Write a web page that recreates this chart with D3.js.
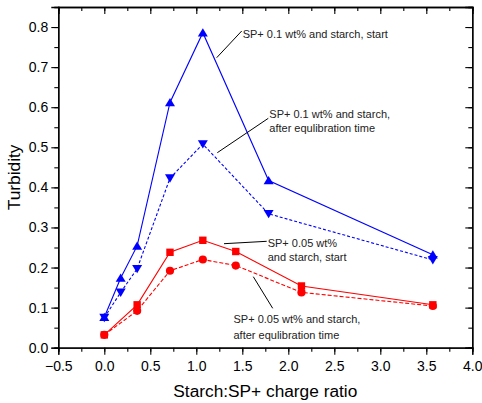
<!DOCTYPE html>
<html>
<head>
<meta charset="utf-8">
<script src="https://cdn.jsdelivr.net/npm/d3@7"></script>
<style>
  html, body { margin: 0; padding: 0; background: #fff; }
  svg { display: block; font-family: "Liberation Sans", Arial, sans-serif; }
</style>
</head>
<body>
<svg id="chart" width="482" height="403"></svg>
<script>
// Charge ratios for each series
const ratiosBlue = [0, 0.178, 0.357, 0.714, 1.071, 1.786, 3.571];
const ratiosRed  = [0, 0.357, 0.714, 1.071, 1.429, 2.143, 3.571];

// Turbidity values
const sp01Start = [0.076, 0.174, 0.254, 0.612, 0.786, 0.417, 0.232];
const sp01After = [0.075, 0.138, 0.197, 0.423, 0.508, 0.334, 0.219];
const sp005Start = [0.032, 0.107, 0.238, 0.268, 0.240, 0.154, 0.107];
const sp005After = [0.032, 0.092, 0.192, 0.220, 0.205, 0.138, 0.104];

const xTicks = [-0.5, 0, 0.5, 1.0, 1.5, 2.0, 2.5, 3.0, 3.5, 4.0];
const yTicks = [0, 0.1, 0.2, 0.3, 0.4, 0.5, 0.6, 0.7, 0.8];

const series = [
  { name: "SP+ 0.1 wt% and starch, start", x: ratiosBlue, y: sp01Start, color: "#0000ff", dash: null, marker: "up" },
  { name: "SP+ 0.1 wt% and starch, after equlibration time", x: ratiosBlue, y: sp01After, color: "#0000ff", dash: "3,2", marker: "down" },
  { name: "SP+ 0.05 wt% and starch, start", x: ratiosRed, y: sp005Start, color: "#ff0000", dash: null, marker: "square" },
  { name: "SP+ 0.05 wt% and starch, after equlibration time", x: ratiosRed, y: sp005After, color: "#ff0000", dash: "4,2", marker: "circle" }
];

const L = 58.3, R = 472.3, T = 7, B = 347.7;
const x = d3.scaleLinear().domain([-0.5, 4.0]).range([L, R]);
const y = d3.scaleLinear().domain([0, 0.85]).range([B, T]);

const svg = d3.select("#chart");

// Series lines
const line = d3.line().x(d => x(d[0])).y(d => y(d[1]));
series.forEach(s => {
  const pts = s.x.map((v, i) => [v, s.y[i]]);
  svg.append("path")
    .attr("d", line(pts))
    .attr("fill", "none")
    .attr("stroke", s.color)
    .attr("stroke-width", 1.1)
    .attr("stroke-dasharray", s.dash);
});

// Markers
const markerPath = {
  up: "M0,-4.5L5,3.8L-5,3.8Z",
  down: "M0,4.5L5,-3.8L-5,-3.8Z",
  square: "M-3.7,-3.7H3.7V3.7H-3.7Z"
};
series.forEach(s => {
  const g = svg.append("g");
  s.x.forEach((v, i) => {
    if (s.marker === "circle") {
      g.append("circle").attr("cx", x(v)).attr("cy", y(s.y[i])).attr("r", 4.1).attr("fill", s.color);
    } else {
      g.append("path").attr("d", markerPath[s.marker])
        .attr("transform", `translate(${x(v)},${y(s.y[i])})`)
        .attr("fill", s.color);
    }
  });
});

// Axes: outward ticks on bottom/left, mirrored inward ticks on top/right
const axisStroke = 1.3;
const xMinor = d3.range(-0.5, 4.0001, 0.25);
const yMinor = d3.range(0, 0.8501, 0.05);

svg.append("g").attr("transform", `translate(0,${B})`)
  .call(d3.axisBottom(x).tickValues(xTicks).tickFormat(d3.format(".1f")).tickSize(7).tickPadding(6));
svg.append("g").attr("transform", `translate(${L},0)`)
  .call(d3.axisLeft(y).tickValues(yTicks).tickFormat(d3.format(".1f")).tickSize(7).tickPadding(3));
svg.append("g").attr("transform", `translate(0,${T})`)
  .call(d3.axisBottom(x).tickValues(xTicks).tickSize(7).tickFormat(""));
svg.append("g").attr("transform", `translate(${R},0)`)
  .call(d3.axisLeft(y).tickValues(yTicks).tickSize(7).tickFormat(""));

// minor ticks
svg.append("g").attr("transform", `translate(0,${B})`)
  .call(d3.axisBottom(x).tickValues(xMinor).tickSize(4).tickFormat(""));
svg.append("g").attr("transform", `translate(${L},0)`)
  .call(d3.axisLeft(y).tickValues(yMinor).tickSize(4).tickFormat(""));
svg.append("g").attr("transform", `translate(0,${T})`)
  .call(d3.axisBottom(x).tickValues(xMinor).tickSize(4).tickFormat(""));
svg.append("g").attr("transform", `translate(${R},0)`)
  .call(d3.axisLeft(y).tickValues(yMinor).tickSize(4).tickFormat(""));

svg.selectAll(".domain").attr("stroke", "#000").attr("stroke-width", axisStroke);
svg.selectAll(".tick line").attr("stroke", "#000").attr("stroke-width", 1.1);
svg.selectAll(".tick text").attr("fill", "#000").attr("font-size", 14)
  .attr("font-family", "'Liberation Sans', Arial, sans-serif");

// Axis titles
svg.append("text").attr("x", (L + R) / 2 + 0).attr("y", 397)
  .attr("text-anchor", "middle").attr("font-size", 17.3).attr("fill", "#000")
  .text("Starch:SP+ charge ratio");
svg.append("text").attr("transform", `translate(20,${(T + B) / 2}) rotate(-90)`)
  .attr("text-anchor", "middle").attr("font-size", 17.3).attr("fill", "#000")
  .text("Turbidity");

// Annotations with leader lines
const notes = [
  { lines: ["SP+ 0.1 wt% and starch, start"], tx: 242.7, ty: 37.5, gap: 14, lead: [[216.7, 57.7], [241.7, 31]] },
  { lines: ["SP+ 0.1 wt% and starch,", "after equlibration time"], tx: 269.3, ty: 118, gap: 14, lead: [[217.3, 152.7], [268.3, 118.3]] },
  { lines: ["SP+ 0.05 wt%", "and starch, start"], tx: 267.7, ty: 247, gap: 14, lead: [[224, 243.7], [266.7, 241.3]] },
  { lines: ["SP+ 0.05 wt% and starch,", "after equlibration time"], tx: 233.5, ty: 323.3, gap: 15.7, lead: [[253.3, 276.7], [272.7, 308.3]] }
];
notes.forEach(n => {
  svg.append("line")
    .attr("x1", n.lead[0][0]).attr("y1", n.lead[0][1])
    .attr("x2", n.lead[1][0]).attr("y2", n.lead[1][1])
    .attr("stroke", "#000").attr("stroke-width", 1);
  n.lines.forEach((t, i) => {
    svg.append("text").attr("x", n.tx).attr("y", n.ty + i * n.gap)
      .attr("font-size", 11).attr("fill", "#222").text(t);
  });
});
</script>
</body>
</html>
